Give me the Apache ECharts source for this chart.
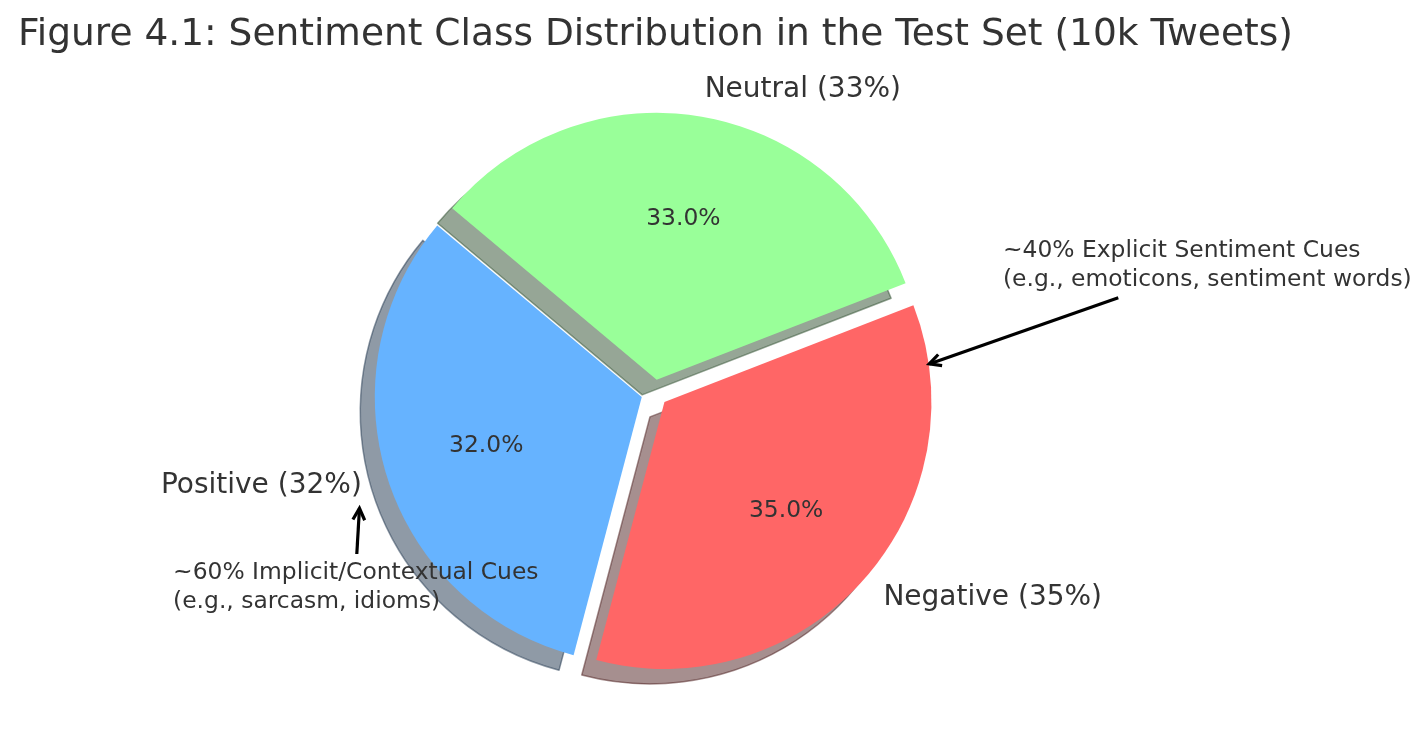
<!DOCTYPE html>
<html>
<head>
<meta charset="utf-8">
<script src="https://cdn.jsdelivr.net/npm/echarts@6/dist/echarts.min.js"></script>
<style>
html,body{margin:0;padding:0;background:#fff;}
#chart{width:1428px;height:745px;}
</style>
</head>
<body>
<div id="chart"></div>
<script>
// ---- data ----
const categories = ['Positive', 'Negative', 'Neutral'];
const shares = [32, 35, 33];
const annotationTexts = [
  '~40% Explicit Sentiment Cues\n(e.g., emoticons, sentiment words)',
  '~60% Implicit/Contextual Cues\n(e.g., sarcasm, idioms)'
];
const titleText = 'Figure 4.1: Sentiment Class Distribution in the Test Set (10k Tweets)';

// ---- styling / layout ----
const colors = ['#66b3ff', '#ff6666', '#99ff99'];
const explode = [0.05, 0.05, 0.05];
const CX = 654.5, CY = 393, R = 267;
const START = 140;
const SHADOW_DX = -14.5, SHADOW_DY = 15;
const FONT = 'DejaVu Sans';
const TXT = '#333333';
// annotation layout in pie units (radius = 1, centre = 0,0, y up)
const annLayout = [
  { text: [1.305, 0.477], from: [1.737, 0.357], to: [1.029, 0.109] },
  { text: [-1.803, -0.728], from: [-1.115, -0.603], to: [-1.105, -0.432] }
];

function hexToRgb(h) {
  h = h.replace('#', '');
  return [parseInt(h.substr(0,2),16), parseInt(h.substr(2,2),16), parseInt(h.substr(4,2),16)];
}
function shadowColor(h) {
  const c = hexToRgb(h).map(v => Math.round(v * 0.3));
  return 'rgba(' + c[0] + ',' + c[1] + ',' + c[2] + ',0.5)';
}

const total = shares.reduce((a, b) => a + b, 0);
const mids = [];
let acc = 0;
shares.forEach(v => {
  const a0 = START + acc / total * 360;
  acc += v;
  const a1 = START + acc / total * 360;
  mids.push((a0 + a1) / 2 * Math.PI / 180);
});

const hidden = { color: 'transparent', borderWidth: 0 };
const series = [];
shares.forEach((v, i) => {
  const ox = CX + explode[i] * R * Math.cos(mids[i]);
  const oy = CY - explode[i] * R * Math.sin(mids[i]);
  const base = {
    type: 'pie', startAngle: START, clockwise: false, silent: true,
    avoidLabelOverlap: false, animation: false, emphasis: { disabled: true },
    labelLine: { show: false, length: 0.1 * R, length2: 0 }
  };
  // shadow
  series.push(Object.assign({}, base, {
    z: 1, center: [ox + SHADOW_DX, oy + SHADOW_DY], radius: R,
    label: { show: false },
    data: shares.map((s, j) => ({
      value: s, name: categories[j],
      itemStyle: j === i ? { color: shadowColor(colors[j]), borderColor: shadowColor(colors[j]), borderWidth: 1.5 } : hidden
    }))
  }));
  // wedge + outer label
  series.push(Object.assign({}, base, {
    z: 2, center: [ox, oy], radius: R,
    data: shares.map((s, j) => ({
      value: s, name: categories[j],
      itemStyle: j === i ? { color: colors[j], borderWidth: 0 } : hidden,
      label: j === i ? {
        show: true, position: 'outside', distanceToLabelLine: 0, overflow: 'none',
        formatter: categories[j] + ' (' + Math.round(s / total * 100) + '%)',
        fontFamily: FONT, fontSize: 28, color: TXT, padding: [7, 0, 0, 0]
      } : { show: false }
    }))
  }));
  // percentage label (at 0.6 R)
  series.push(Object.assign({}, base, {
    z: 3, center: [ox, oy], radius: [0.2 * R, R],
    data: shares.map((s, j) => ({
      value: s, name: categories[j],
      itemStyle: hidden,
      label: j === i ? {
        show: true, position: 'inside',
        formatter: (s / total * 100).toFixed(1) + '%',
        fontFamily: FONT, fontSize: 23.4, color: TXT, padding: [8, 0, 0, 0]
      } : { show: false }
    }))
  }));
});

function toPx(p) { return [CX + p[0] * R, CY - p[1] * R]; }
const graphics = [];
annLayout.forEach((a, k) => {
  const t = toPx(a.text);
  graphics.push({
    type: 'text', x: t[0], y: t[1], z: 10,
    style: {
      text: annotationTexts[k], font: '23.4px "DejaVu Sans"', fill: TXT,
      textAlign: 'left', textVerticalAlign: 'middle', lineHeight: 28.5
    }
  });
  const f = toPx(a.from), to = toPx(a.to);
  const ang = Math.atan2(f[1] - to[1], f[0] - to[0]);
  const hl = 13, ha = 27 * Math.PI / 180;
  const p1 = [to[0] + hl * Math.cos(ang + ha), to[1] + hl * Math.sin(ang + ha)];
  const p2 = [to[0] + hl * Math.cos(ang - ha), to[1] + hl * Math.sin(ang - ha)];
  graphics.push({ type: 'line', z: 10, shape: { x1: f[0], y1: f[1], x2: to[0], y2: to[1] },
    style: { stroke: '#000', lineWidth: 3.2 } });
  graphics.push({ type: 'polyline', z: 10, shape: { points: [p1, to, p2] },
    style: { stroke: '#000', lineWidth: 3.2, fill: null, lineJoin: 'miter' } });
});

const chart = echarts.init(document.getElementById('chart'));
chart.setOption({
  backgroundColor: '#ffffff',
  animation: false,
  title: {
    text: titleText, left: 13, top: 11,
    textStyle: { fontFamily: FONT, fontSize: 37.5, fontWeight: 'normal', color: TXT }
  },
  series: series,
  graphic: graphics
});
</script>
</body>
</html>
